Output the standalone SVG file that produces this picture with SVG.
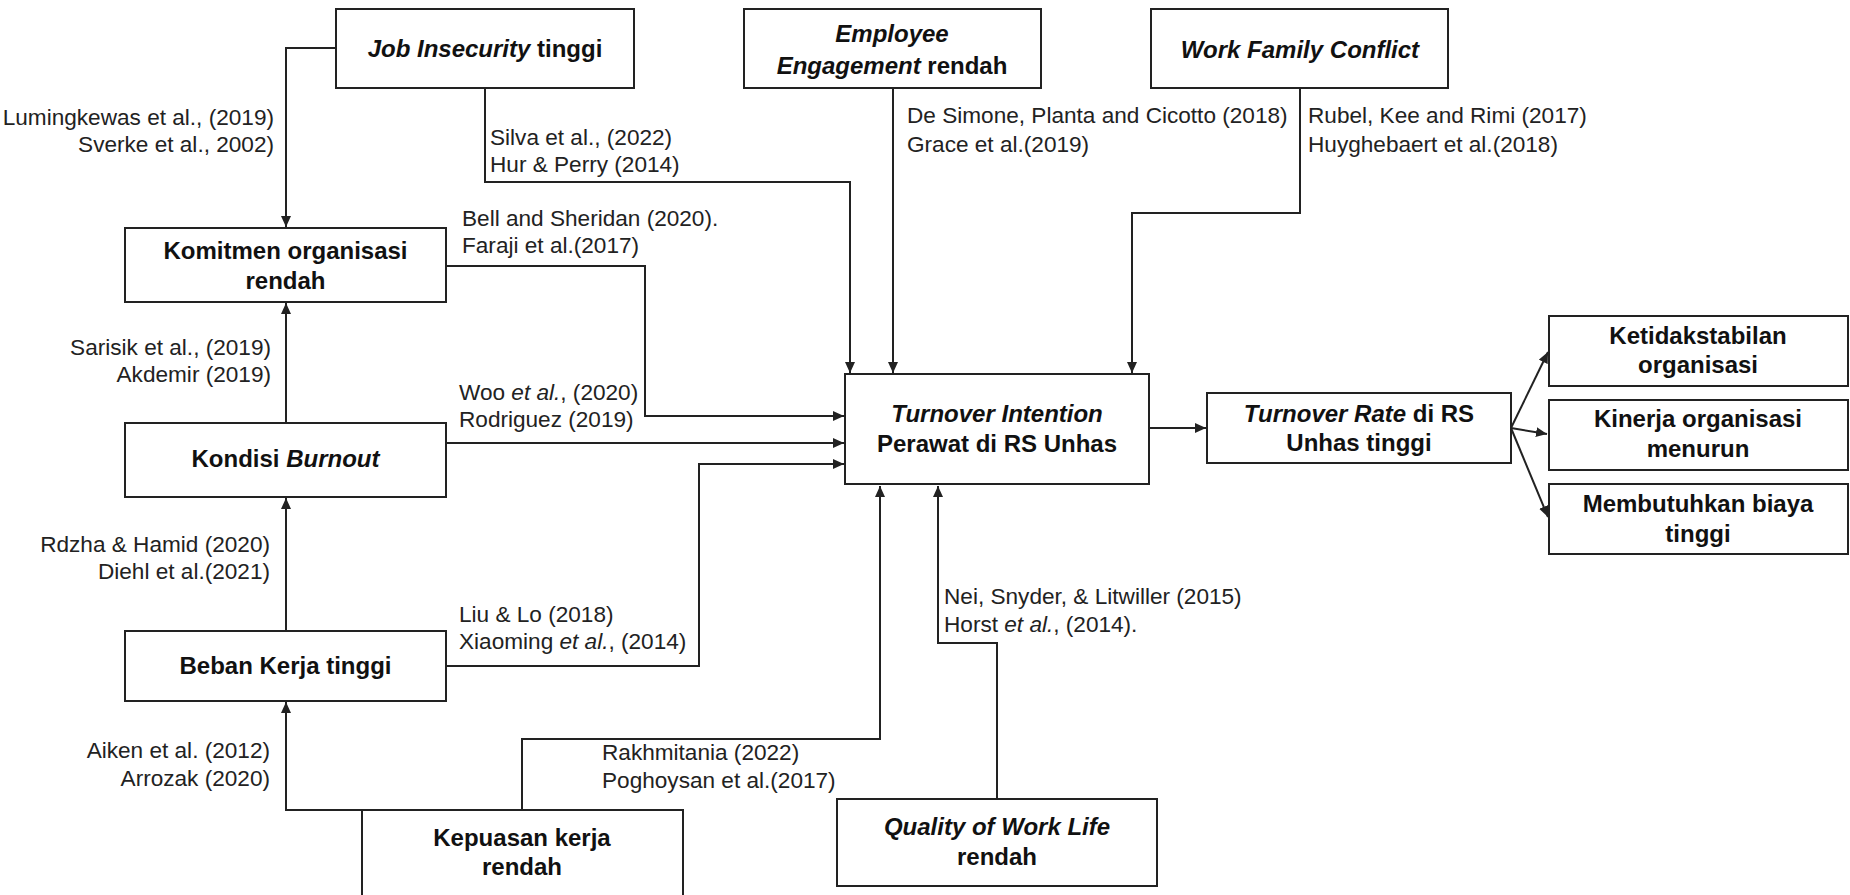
<svg xmlns="http://www.w3.org/2000/svg" width="1850" height="895" viewBox="0 0 1850 895">
<style>
.box{fill:#fff;stroke:#222;stroke-width:2}
.t{font-family:"Liberation Sans",Arial,sans-serif;font-weight:bold;font-size:24px;fill:#111;text-anchor:middle}
.i{font-style:italic}
.l{font-family:"Liberation Sans",Arial,sans-serif;font-size:22.6px;fill:#222}
.r{text-anchor:end}
.c{fill:none;stroke:#222;stroke-width:2;marker-end:url(#ah)}
</style>
<defs>
<marker id="ah" viewBox="0 0 11 10" refX="11" refY="5" markerWidth="11" markerHeight="10" markerUnits="userSpaceOnUse" orient="auto">
<path d="M0,0 L11,5 L0,10 z" fill="#222"/>
</marker>
</defs>
<rect width="1850" height="895" fill="#fff"/>
<g id="connectors">
<path class="c" d="M336,48 H286 V227"/>
<path class="c" d="M485,88 V182 H850 V373"/>
<path class="c" d="M893,88 V373"/>
<path class="c" d="M1300,88 V213 H1132 V373"/>
<path class="c" d="M446,266 H645 V416 H844"/>
<path class="c" d="M446,443 H844"/>
<path class="c" d="M446,666 H699 V464 H844"/>
<path class="c" d="M286,423 V303"/>
<path class="c" d="M286,631 V498"/>
<path class="c" d="M362,810 H286 V702"/>
<path class="c" d="M522,810 V739 H880 V486"/>
<path class="c" d="M997,799 V643 H938 V486"/>
<path class="c" d="M1149,428 H1206"/>
<path class="c" d="M1511,428 L1548,352"/>
<path class="c" d="M1511,428 L1547,434"/>
<path class="c" d="M1511,428 L1548,517"/>
</g>
<g id="labels">
<text class="l r" x="274" y="125">Lumingkewas et al., (2019)</text>
<text class="l r" x="274" y="152">Sverke et al., 2002)</text>
<text class="l" x="490" y="145">Silva et al., (2022)</text>
<text class="l" x="490" y="172">Hur &amp; Perry (2014)</text>
<text class="l" x="907" y="123">De Simone, Planta and Cicotto (2018)</text>
<text class="l" x="907" y="152">Grace et al.(2019)</text>
<text class="l" x="1308" y="123">Rubel, Kee and Rimi (2017)</text>
<text class="l" x="1308" y="152">Huyghebaert et al.(2018)</text>
<text class="l" x="462" y="226">Bell and Sheridan (2020).</text>
<text class="l" x="462" y="253">Faraji et al.(2017)</text>
<text class="l r" x="271" y="355">Sarisik et al., (2019)</text>
<text class="l r" x="271" y="382">Akdemir (2019)</text>
<text class="l" x="459" y="400">Woo <tspan class="i">et al.</tspan>, (2020)</text>
<text class="l" x="459" y="427">Rodriguez (2019)</text>
<text class="l r" x="270" y="552">Rdzha &amp; Hamid (2020)</text>
<text class="l r" x="270" y="579">Diehl et al.(2021)</text>
<text class="l" x="459" y="622">Liu &amp; Lo (2018)</text>
<text class="l" x="459" y="649">Xiaoming <tspan class="i">et al.</tspan>, (2014)</text>
<text class="l r" x="270" y="758">Aiken et al. (2012)</text>
<text class="l r" x="270" y="786">Arrozak (2020)</text>
<text class="l" x="602" y="760">Rakhmitania (2022)</text>
<text class="l" x="602" y="788">Poghoysan et al.(2017)</text>
<text class="l" x="944" y="604">Nei, Snyder, &amp; Litwiller (2015)</text>
<text class="l" x="944" y="632">Horst <tspan class="i">et al.</tspan>, (2014).</text>
</g>
<g id="job-insecurity">
<rect class="box" x="336" y="9" width="298" height="79"/>
<text class="t" x="485" y="57"><tspan class="i">Job Insecurity</tspan> tinggi</text>
</g>
<g id="employee-engagement">
<rect class="box" x="744" y="9" width="297" height="79"/>
<text class="t" x="892" y="42"><tspan class="i">Employee</tspan></text>
<text class="t" x="892" y="74"><tspan class="i">Engagement</tspan> rendah</text>
</g>
<g id="work-family-conflict">
<rect class="box" x="1151" y="9" width="297" height="79"/>
<text class="t i" x="1300" y="58">Work Family Conflict</text>
</g>
<g id="komitmen">
<rect class="box" x="125" y="228" width="321" height="74"/>
<text class="t" x="285.5" y="259">Komitmen organisasi</text>
<text class="t" x="285.5" y="289">rendah</text>
</g>
<g id="burnout">
<rect class="box" x="125" y="423" width="321" height="74"/>
<text class="t" x="285.5" y="467">Kondisi <tspan class="i">Burnout</tspan></text>
</g>
<g id="beban-kerja">
<rect class="box" x="125" y="631" width="321" height="70"/>
<text class="t" x="285.5" y="674">Beban Kerja tinggi</text>
</g>
<g id="kepuasan-kerja">
<rect class="box" x="362" y="810" width="321" height="100"/>
<text class="t" x="522" y="846">Kepuasan kerja</text>
<text class="t" x="522" y="875">rendah</text>
</g>
<g id="turnover-intention">
<rect class="box" x="845" y="374" width="304" height="110"/>
<text class="t i" x="997" y="422">Turnover Intention</text>
<text class="t" x="997" y="452">Perawat di RS Unhas</text>
</g>
<g id="quality-work-life">
<rect class="box" x="837" y="799" width="320" height="87"/>
<text class="t i" x="997" y="835">Quality of Work Life</text>
<text class="t" x="997" y="865">rendah</text>
</g>
<g id="turnover-rate">
<rect class="box" x="1207" y="393" width="304" height="70"/>
<text class="t" x="1359" y="422"><tspan class="i">Turnover Rate</tspan> di RS</text>
<text class="t" x="1359" y="451">Unhas tinggi</text>
</g>
<g id="ketidakstabilan">
<rect class="box" x="1549" y="316" width="299" height="70"/>
<text class="t" x="1698" y="344">Ketidakstabilan</text>
<text class="t" x="1698" y="373">organisasi</text>
</g>
<g id="kinerja">
<rect class="box" x="1549" y="400" width="299" height="70"/>
<text class="t" x="1698" y="427">Kinerja organisasi</text>
<text class="t" x="1698" y="457">menurun</text>
</g>
<g id="biaya">
<rect class="box" x="1549" y="484" width="299" height="70"/>
<text class="t" x="1698" y="512">Membutuhkan biaya</text>
<text class="t" x="1698" y="542">tinggi</text>
</g>
</svg>
